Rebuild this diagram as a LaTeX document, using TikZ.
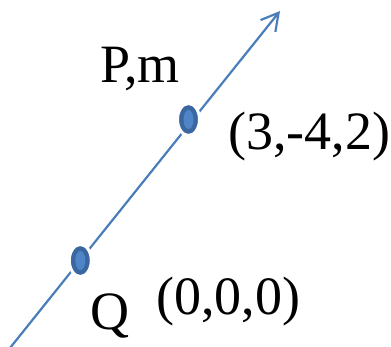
\documentclass[tikz,border=0pt]{standalone}
\usepackage{fontspec}
\setmainfont{Liberation Serif}
\usetikzlibrary{arrows.meta,shapes.geometric}
\definecolor{lineblue}{HTML}{4A7EBB}
\definecolor{dotdark}{HTML}{3A679F}
\definecolor{dotlight}{HTML}{4F85C6}
\tikzset{
  lbl/.style={anchor=base west, inner sep=0pt, font=\fontsize{54}{58}\selectfont},
  pointdot/.style={ellipse, minimum width=22pt, minimum height=32pt, inner sep=0pt, draw=white, line width=3pt, fill=dotdark},
  pointcore/.style={ellipse, minimum width=10pt, minimum height=19pt, inner sep=0pt, fill=dotlight},
  axisline/.style={draw=lineblue, line width=2.2pt, -{Straight Barb[length=17pt,width=19pt]}}
}
\begin{document}
\begin{tikzpicture}[x=1pt,y=-1pt]
\useasboundingbox (0,0) rectangle (391,347);
\coordinate (start) at (10,348);
\coordinate (tip) at (280,11);
\draw[axisline] (start) -- (tip);
\node[pointdot] (P) at (188.5,119.5) {};
\node[pointcore] (Pc) at (P.center) {};
\node[pointdot] (Q) at (80.3,260.5) {};
\node[pointcore] (Qc) at (Q.center) {};
\node[lbl] (Plab) at (100,83) {P,m};
\node[lbl] (Pcoord) at (228,150) {(3,-4,2)};
\node[lbl] (Qlab) at (90,330) {Q};
\node[lbl] (Qcoord) at (156,315) {(0,0,0)};
\end{tikzpicture}
\end{document}
